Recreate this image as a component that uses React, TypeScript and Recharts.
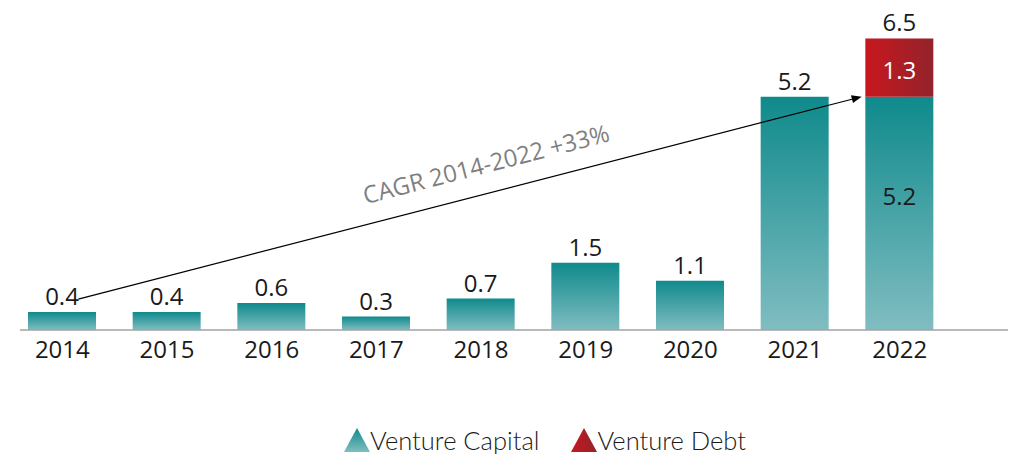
import React from 'react'
import { BarChart, Bar, XAxis, YAxis, Legend, ReferenceLine } from 'recharts'

const years = ['2014', '2015', '2016', '2017', '2018', '2019', '2020', '2021', '2022']
const ventureCapital = [0.4, 0.4, 0.6, 0.3, 0.7, 1.5, 1.1, 5.2, 5.2]
const ventureDebt = [0, 0, 0, 0, 0, 0, 0, 0, 1.3]
const totals = [0.4, 0.4, 0.6, 0.3, 0.7, 1.5, 1.1, 5.2, 6.5]
const cagrText = 'CAGR 2014-2022 +33%'

const data = years.map((year, i) => ({ year, vc: ventureCapital[i], vd: ventureDebt[i] }))

const FONT = '"Open Sans", sans-serif'
const fmt = (v: number) => v.toFixed(1)

// labels for both stacked series, drawn from the venture capital bar geometry
const vcLabel = (props: any) => {
  const { x, y, width, height, index } = props
  const cx = x + width / 2
  if (ventureDebt[index] > 0) {
    const perUnit = height / ventureCapital[index]
    const debtH = ventureDebt[index] * perUnit
    return (
      <g>
        <text x={cx} y={y + height / 2 - 18} textAnchor="middle" dominantBaseline="central"
          fontSize={24} fontFamily={FONT} fill="#1a1a1a">
          {fmt(ventureCapital[index])}
        </text>
        <text x={cx} y={y - debtH / 2 + 2} textAnchor="middle" dominantBaseline="central"
          fontSize={24} fontFamily={FONT} fill="#ffffff">
          {fmt(ventureDebt[index])}
        </text>
        <text x={cx} y={y - debtH - 7} textAnchor="middle" fontSize={24} fontFamily={FONT} fill="#1a1a1a">
          {fmt(totals[index])}
        </text>
      </g>
    )
  }
  return (
    <text x={cx} y={y - 7} textAnchor="middle" fontSize={24} fontFamily={FONT} fill="#1a1a1a">
      {fmt(totals[index])}
    </text>
  )
}

const arrowShape = (props: any) => {
  const x1 = props.x1 + 16
  const y1 = props.y1 - 13
  const x2 = props.x2 - 38
  const y2 = props.y2
  const ang = Math.atan2(y2 - y1, x2 - x1)
  const deg = (ang * 180) / Math.PI
  const mx = (x1 + x2) / 2
  const my = (y1 + y2) / 2
  return (
    <g>
      <line x1={x1} y1={y1} x2={x2 - 6 * Math.cos(ang)} y2={y2 - 6 * Math.sin(ang)} stroke="#000" strokeWidth={1.2} />
      <polygon points="0,0 -10,-4 -10,4" fill="#000" transform={`translate(${x2},${y2}) rotate(${deg})`} />
      <text transform={`translate(${mx},${my}) rotate(${deg})`} x={24} y={-20} textAnchor="middle"
        fontSize={24} fontFamily={FONT} fill="#7f7f7f">
        {cagrText}
      </text>
    </g>
  )
}

const axisShape = (props: any) => (
  <line x1={props.x1 + 10} y1={props.y1} x2={props.x2 + 56} y2={props.y2} stroke="#a3a3a3" strokeWidth={1.5} />
)

const renderLegend = () => (
  <div style={{ display: 'flex', alignItems: 'center', fontFamily: 'Lato, sans-serif', fontWeight: 300, fontSize: 25.5, color: '#1a1a1a', lineHeight: '28px' }}>
    <svg width={26} height={24} style={{ marginRight: 0 }}>
      <defs>
        <linearGradient id="legVc" x1="0" y1="0" x2="0" y2="1">
          <stop offset="0%" stopColor="#0f8a8c" />
          <stop offset="100%" stopColor="#80bdc1" />
        </linearGradient>
      </defs>
      <polygon points="13,0 26,24 0,24" fill="url(#legVc)" />
    </svg>
    <span>Venture Capital</span>
    <svg width={26} height={24} style={{ marginLeft: 32, marginRight: 0 }}>
      <defs>
        <linearGradient id="legVd" x1="0" y1="0" x2="1" y2="0">
          <stop offset="0%" stopColor="#c8171e" />
          <stop offset="100%" stopColor="#93232b" />
        </linearGradient>
      </defs>
      <polygon points="13,0 26,24 0,24" fill="url(#legVd)" />
    </svg>
    <span>Venture Debt</span>
  </div>
)

export default function App() {
  return (
    <BarChart width={1010} height={446} data={data} margin={{ top: 8, right: 66, left: 2, bottom: 66 }} barSize={68}>
      <defs>
        <linearGradient id="vcGrad" x1="0" y1="0" x2="0" y2="1">
          <stop offset="0%" stopColor="#0f8a8c" />
          <stop offset="100%" stopColor="#80bdc1" />
        </linearGradient>
        <linearGradient id="vdGrad" x1="0" y1="0" x2="1" y2="0">
          <stop offset="0%" stopColor="#c8171e" />
          <stop offset="100%" stopColor="#93232b" />
        </linearGradient>
      </defs>
      <XAxis dataKey="year" axisLine={false} tickLine={false} tickMargin={5}
        tick={{ fontSize: 24, fontFamily: FONT, fill: '#1a1a1a' }} />
      <YAxis hide domain={[0, 7]} />
      <Legend content={renderLegend} wrapperStyle={{ left: 336, top: 418, width: 440 }} />
      <Bar dataKey="vc" stackId="a" fill="url(#vcGrad)" isAnimationActive={false} label={vcLabel} />
      <Bar dataKey="vd" stackId="a" fill="url(#vdGrad)" isAnimationActive={false} />
      <ReferenceLine y={0} ifOverflow="visible" shape={axisShape} />
      <ReferenceLine segment={[{ x: '2014', y: 0.4 }, { x: '2022', y: 5.2 }]} ifOverflow="visible" shape={arrowShape} />
    </BarChart>
  )
}
